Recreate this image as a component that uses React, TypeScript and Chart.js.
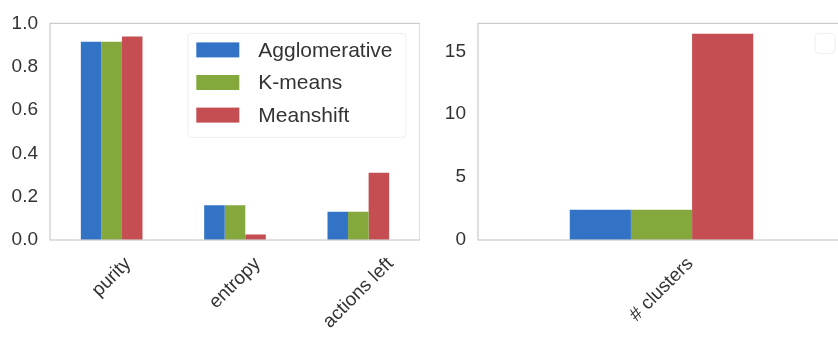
import React, { useEffect, useRef } from "react";
import { Chart, registerables } from "chart.js";

Chart.register(...registerables);

// ---- data ----
const seriesNames = ["Agglomerative", "K-means", "Meanshift"];
const seriesColors = ["#3373C6", "#84A83C", "#C44E52"];

const leftCategories = ["purity", "entropy", "actions left"];
const leftAgglomerative = [0.915, 0.16, 0.13];
const leftKmeans = [0.915, 0.16, 0.13];
const leftMeanshift = [0.94, 0.025, 0.31];
const leftTicks = [0, 0.2, 0.4, 0.6, 0.8, 1.0];
const leftMax = 1.0;

const rightCategories = ["# clusters"];
const rightAgglomerative = [2.4];
const rightKmeans = [2.4];
const rightMeanshift = [16.4];
const rightTicks = [0, 5, 10, 15];
const rightMax = 17.22;

const FONT = '"Liberation Sans", Arial, sans-serif';
const TEXT = "#333333";
const EDGE = "#cccccc";

const framePlugin = {
  id: "frame",
  afterDatasetsDraw(chart: any) {
    const { ctx, chartArea: a } = chart;
    ctx.save();
    ctx.strokeStyle = EDGE;
    ctx.lineWidth = 1.25;
    ctx.strokeRect(a.left, a.top, a.right - a.left, a.bottom - a.top);
    ctx.restore();
  },
};

const rotatedLabelsPlugin = {
  id: "rotLabels",
  afterDraw(chart: any) {
    const { ctx, chartArea: a } = chart;
    const xs = chart.scales.x;
    const labels: string[] = chart.data.labels;
    ctx.save();
    ctx.font = `19px ${FONT}`;
    ctx.fillStyle = TEXT;
    ctx.textAlign = "center";
    ctx.textBaseline = "middle";
    labels.forEach((lab, i) => {
      const x = xs.getPixelForTick(i);
      const w = ctx.measureText(lab).width;
      const h = 22;
      const side = (w + h) * Math.SQRT1_2;
      const cy = a.bottom + 13 + side / 2;
      ctx.save();
      ctx.translate(x, cy);
      ctx.rotate(-Math.PI / 4);
      ctx.fillText(lab, 0, 0);
      ctx.restore();
    });
    ctx.restore();
  },
};

function roundRect(ctx: any, x: number, y: number, w: number, h: number, r: number) {
  ctx.beginPath();
  ctx.moveTo(x + r, y);
  ctx.lineTo(x + w - r, y);
  ctx.quadraticCurveTo(x + w, y, x + w, y + r);
  ctx.lineTo(x + w, y + h - r);
  ctx.quadraticCurveTo(x + w, y + h, x + w - r, y + h);
  ctx.lineTo(x + r, y + h);
  ctx.quadraticCurveTo(x, y + h, x, y + h - r);
  ctx.lineTo(x, y + r);
  ctx.quadraticCurveTo(x, y, x + r, y);
  ctx.closePath();
}

const legendPlugin = {
  id: "innerLegend",
  afterDraw(chart: any, _args: any, opts: any) {
    const { ctx, chartArea: a } = chart;
    ctx.save();
    if (opts.empty) {
      const bx = a.right - 30;
      const by = a.top + 10;
      roundRect(ctx, bx, by, 20, 20, 4);
      ctx.fillStyle = "rgba(255,255,255,0.8)";
      ctx.fill();
      ctx.strokeStyle = "#eeeeee";
      ctx.lineWidth = 1;
      ctx.stroke();
      ctx.restore();
      return;
    }
    const bw = 218;
    const bh = 104;
    const bx = a.right - 14 - bw;
    const by = a.top + 10;
    roundRect(ctx, bx, by, bw, bh, 4);
    ctx.fillStyle = "rgba(255,255,255,0.8)";
    ctx.fill();
    ctx.strokeStyle = "#eeeeee";
    ctx.lineWidth = 1;
    ctx.stroke();
    ctx.font = `21px ${FONT}`;
    ctx.textAlign = "left";
    ctx.textBaseline = "middle";
    chart.data.datasets.forEach((ds: any, i: number) => {
      const cy = by + 16.5 + i * 32.6;
      ctx.fillStyle = ds.backgroundColor;
      ctx.fillRect(bx + 8.3, cy - 7.5, 43, 15);
      ctx.fillStyle = TEXT;
      ctx.fillText(ds.label, bx + 70.3, cy + 1);
    });
    ctx.restore();
  },
};

function makeConfig(
  labels: string[],
  series: number[][],
  ticks: number[],
  max: number,
  yWidth: number,
  decimals: number,
  emptyLegend: boolean
): any {
  return {
    type: "bar",
    data: {
      labels,
      datasets: series.map((vals, i) => ({
        label: seriesNames[i],
        data: vals,
        backgroundColor: seriesColors[i],
        borderWidth: 0,
        categoryPercentage: 0.5,
        barPercentage: 1.0,
      })),
    },
    options: {
      responsive: false,
      animation: false,
      layout: { padding: { top: 18, left: 0, right: 0, bottom: 0 } },
      plugins: {
        legend: { display: false },
        tooltip: { enabled: false },
        innerLegend: { empty: emptyLegend },
      },
      scales: {
        x: {
          grid: { display: false },
          border: { display: false },
          ticks: { display: false },
          afterFit: (s: any) => {
            s.height = 98;
          },
        },
        y: {
          min: 0,
          max,
          grid: { display: false, drawTicks: false },
          border: { display: false },
          afterBuildTicks: (s: any) => {
            s.ticks = ticks.map((v) => ({ value: v }));
          },
          afterFit: (s: any) => {
            s.width = yWidth;
          },
          ticks: {
            padding: 12,
            color: TEXT,
            font: { family: FONT, size: 19 },
            callback: (v: any) => Number(v).toFixed(decimals),
          },
        },
      },
    },
    plugins: [framePlugin, rotatedLabelsPlugin, legendPlugin],
  };
}

export default function App() {
  const leftRef = useRef<HTMLCanvasElement>(null);
  const rightRef = useRef<HTMLCanvasElement>(null);

  useEffect(() => {
    const left = new Chart(
      leftRef.current!,
      makeConfig(
        leftCategories,
        [leftAgglomerative, leftKmeans, leftMeanshift],
        leftTicks,
        leftMax,
        50,
        1,
        false
      )
    );
    const right = new Chart(
      rightRef.current!,
      makeConfig(
        rightCategories,
        [rightAgglomerative, rightKmeans, rightMeanshift],
        rightTicks,
        rightMax,
        48,
        0,
        true
      )
    );
    return () => {
      left.destroy();
      right.destroy();
    };
  }, []);

  return (
    <div
      style={{
        position: "fixed",
        left: 0,
        top: 0,
        width: 838,
        height: 338,
        overflow: "hidden",
        background: "#ffffff",
      }}
    >
      <canvas
        ref={leftRef}
        width={420}
        height={338}
        style={{ position: "absolute", left: 0, top: 0 }}
      />
      <canvas
        ref={rightRef}
        width={415}
        height={338}
        style={{ position: "absolute", left: 430, top: 0 }}
      />
    </div>
  );
}
